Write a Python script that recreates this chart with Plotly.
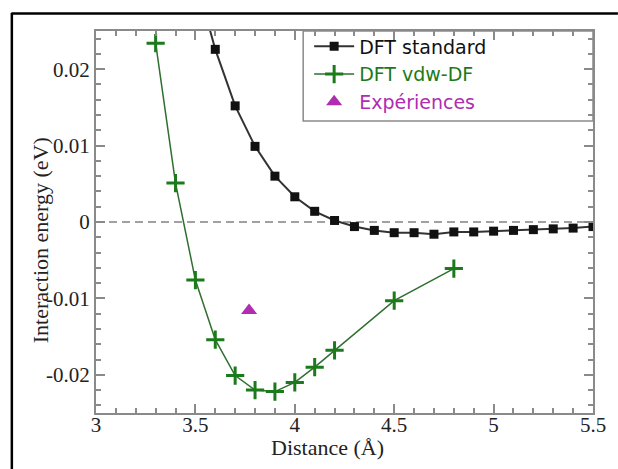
import plotly.graph_objects as go

# Interlayer distance (Å) and interaction energy (eV)
dist_std = [3.5, 3.6, 3.7, 3.8, 3.9, 4.0, 4.1, 4.2, 4.3, 4.4, 4.5, 4.6, 4.7,
            4.8, 4.9, 5.0, 5.1, 5.2, 5.3, 5.4, 5.5]
energy_std = [0.032, 0.0226, 0.0152, 0.0099, 0.0060, 0.0033, 0.0014, 0.0002,
              -0.0006, -0.0011, -0.0014, -0.0014, -0.0016, -0.0013, -0.0013,
              -0.0012, -0.0011, -0.0010, -0.0009, -0.0008, -0.0006]

dist_vdw = [3.3, 3.4, 3.5, 3.6, 3.7, 3.8, 3.9, 4.0, 4.1, 4.2, 4.5, 4.8]
energy_vdw = [0.0234, 0.0051, -0.0076, -0.0154, -0.0201, -0.0220, -0.0222,
              -0.0210, -0.0190, -0.0168, -0.0103, -0.0061]

dist_exp = [3.77]
energy_exp = [-0.0116]

x_ticks = [3, 3.5, 4, 4.5, 5, 5.5]
x_ticktext = ["3", "3.5", "4", "4.5", "5", "5.5"]
y_ticks = [0.02, 0.01, 0, -0.01, -0.02]
y_ticktext = ["0.02", "0.01", "0", "-0.01", "-0.02"]

GREEN = "#1b7a1b"
PURPLE = "#b02cb0"
AXIS_GRAY = "#8a8a8a"
SERIF = "Liberation Serif"

fig = go.Figure()

fig.add_trace(go.Scatter(
    x=dist_std, y=energy_std, mode="lines+markers",
    name="<span style='color:#111111'>DFT standard</span>",
    line=dict(color="#333333", width=2),
    marker=dict(symbol="square", size=9, color="#111111"),
    legendgroup="a",
))
fig.add_trace(go.Scatter(
    x=dist_vdw, y=energy_vdw, mode="lines+markers",
    name="<span style='color:%s'>DFT vdw-DF</span>" % GREEN,
    line=dict(color="#2f6f2f", width=1.5),
    marker=dict(symbol="cross-thin", size=13, color=GREEN,
                line=dict(color=GREEN, width=3)),
    legendgroup="b",
))
fig.add_trace(go.Scatter(
    x=dist_exp, y=energy_exp, mode="markers",
    name="<span style='color:%s'>Expériences</span>" % PURPLE,
    marker=dict(symbol="triangle-up", size=14, color=PURPLE),
    legendgroup="c",
))

# px -> paper helpers for the plot area (96..595 x 31..413)
L, R, T, B = 96, 595, 31, 413
def px(xp):
    return (xp - L) / (R - L)
def py(yp):
    return (B - yp) / (B - T)

shapes = [
    # zero reference line
    dict(type="line", xref="paper", yref="y", x0=0, x1=1, y0=0, y1=0,
         line=dict(color="#444444", width=1.2, dash="8px,5px"), layer="below"),
    # legend frame
    dict(type="rect", xref="paper", yref="paper",
         x0=px(304), x1=1, y0=py(121), y1=1,
         line=dict(color=AXIS_GRAY, width=1.5), fillcolor="white", layer="below"),
    # outer frame
    dict(type="line", xref="paper", yref="paper",
         x0=px(11), x1=px(620), y0=py(13.5), y1=py(13.5),
         line=dict(color="black", width=2.5)),
    dict(type="line", xref="paper", yref="paper",
         x0=px(11.5), x1=px(11.5), y0=py(13), y1=py(472),
         line=dict(color="black", width=2.5)),
]

annotations = [
    dict(text="Distance (Å)", xref="paper", yref="paper",
         x=px(328), y=py(447), xanchor="center", yanchor="middle",
         showarrow=False,
         font=dict(family=SERIF, size=22, color="#222222")),
    dict(text="Interaction energy (eV)", xref="paper", yref="paper",
         x=px(40), y=py(240), xanchor="center", yanchor="middle",
         showarrow=False, textangle=-90,
         font=dict(family=SERIF, size=22, color="#222222")),
]

axis_common = dict(
    showline=True, linecolor=AXIS_GRAY, linewidth=2, mirror="allticks",
    ticks="inside", ticklen=9, tickwidth=1.5, tickcolor=AXIS_GRAY,
    showgrid=False, zeroline=False,
    tickfont=dict(family=SERIF, size=21, color="#222222"),
)

fig.update_xaxes(range=[3, 5.5], tickvals=x_ticks, ticktext=x_ticktext,
                 ticklabelstandoff=-8,
                 minor=dict(ticks="inside", ticklen=5, dtick=0.1,
                            tickcolor=AXIS_GRAY, tickwidth=1.5),
                 **axis_common)
fig.update_yaxes(range=[-0.025, 0.025], tickvals=y_ticks, ticktext=y_ticktext,
                 minor=dict(ticks="inside", ticklen=5, dtick=0.002,
                            tick0=0, tickcolor=AXIS_GRAY, tickwidth=1.5),
                 **axis_common)

fig.update_layout(
    width=618, height=469,
    margin=dict(l=L, r=618 - R, t=T, b=469 - B),
    paper_bgcolor="white", plot_bgcolor="white",
    shapes=shapes, annotations=annotations,
    showlegend=True,
    legend=dict(x=px(310), y=py(27.5), xanchor="left", yanchor="top",
                bgcolor="rgba(0,0,0,0)", borderwidth=0,
                font=dict(family="DejaVu Sans", size=19),
                itemwidth=40, tracegroupgap=0),
)

fig.write_html("out.html")
